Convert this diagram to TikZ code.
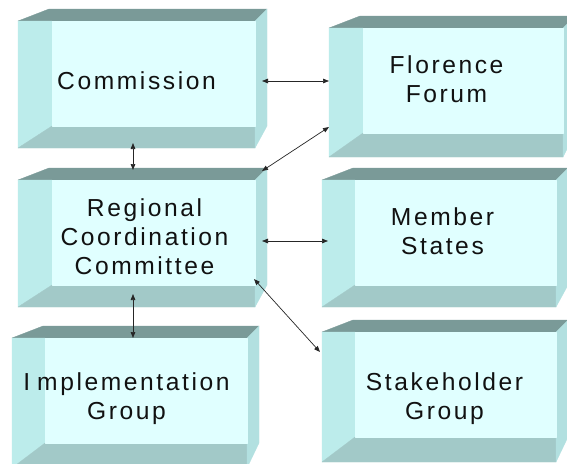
\documentclass[tikz,border=0pt]{standalone}
\usepackage{fontspec}
\newfontfamily\lblfont{Liberation Sans}[LetterSpace=10.5]
\usetikzlibrary{arrows.meta,fit}
\definecolor{frontc}{HTML}{E0FFFF}
\definecolor{leftc}{HTML}{BCECEB}
\definecolor{topc}{HTML}{7A9A98}
\definecolor{botc}{HTML}{A2C9C8}
\definecolor{rightc}{HTML}{B2E0E0}
\definecolor{txtc}{HTML}{111111}
\tikzset{
  face/.style={fill=#1, draw=#1, line width=0.3pt, line join=round},
  lbl/.style={font=\lblfont\fontsize{24.6}{29}\selectfont, text=txtc, align=center, inner sep=0pt},
  link/.style={draw=black!85, line width=0.7pt, {Triangle[length=6pt,width=4.6pt]}-{Triangle[length=6pt,width=4.6pt]}}
}
% #1 name, #2 x0, #3 xi, #4 x1, #5 y0, #6 yi, #7 y1
\newcommand{\bevbox}[7]{%
  \path[face=topc] (#2,#5) -- (#2+31,#5-12) -- (#4+12,#5-12) -- (#4,#5) -- cycle;
  \path[face=leftc] (#2,#5) -- (#3,#5) -- (#3,#6) -- (#2,#7) -- cycle;
  \path[face=botc] (#2,#7) -- (#3,#6) -- (#4,#6) -- (#4,#7) -- cycle;
  \path[face=rightc] (#4,#5) -- (#4+12,#5-12) -- (#4+12,#6) -- (#4,#7) -- cycle;
  \path (#3,#5) coordinate (#1-nw) (#4,#6) coordinate (#1-se);
  \node[inner sep=0pt, fit=(#1-nw)(#1-se), face=frontc] (#1) {};
}
\begin{document}
\begin{tikzpicture}[x=1pt,y=-1pt]
\useasboundingbox (0,0) rectangle (567,463);
\clip (0,0) rectangle (567,463);
\fill[white] (0,0) rectangle (567,463);

\bevbox{com}{18}{52}{255}{21}{126}{148}
\bevbox{flo}{329}{363}{563}{28}{133}{157}
\bevbox{reg}{18}{52}{255}{180}{285}{307}
\bevbox{mem}{322}{355}{556}{180}{285}{307}
\bevbox{imp}{12}{45}{247}{338}{443}{468}
\bevbox{stk}{322}{355}{556}{332}{437}{462}

\node[lbl, anchor=base] (com-t) at (136.5,89) {Commission};
\node[lbl] (flo-t) at (446.5,78.9) {Florence\\Forum};
\node[lbl] (reg-t) at (144.5,236.4) {Regional\\Coordination\\Committee};
\node[lbl] (mem-t) at (442.5,230.9) {Member\\States};
\node[lbl] (imp-t) at (126.5,398.6) {I\kern7pt mplementation\\Group};
\node[lbl] (stk-t) at (444.5,398.7) {Stakeholder\\Group};

\coordinate (com-e) at (262,81);
\coordinate (flo-w) at (329,81);
\coordinate (com-s) at (133,143);
\coordinate (reg-n) at (133,170);
\coordinate (flo-sw) at (329,127);
\coordinate (reg-ne) at (262,171);
\coordinate (reg-e) at (262,241);
\coordinate (mem-w) at (328,241);
\coordinate (reg-se) at (254,279);
\coordinate (stk-nw) at (320,352);
\coordinate (reg-s) at (133,294);
\coordinate (imp-n) at (133,338);

\draw[link] (com-e) -- (flo-w);
\draw[link] (com-s) -- (reg-n);
\draw[link] (flo-sw) -- (reg-ne);
\draw[link] (reg-e) -- (mem-w);
\draw[link] (reg-se) -- (stk-nw);
\draw[link] (reg-s) -- (imp-n);
\end{tikzpicture}
\end{document}
